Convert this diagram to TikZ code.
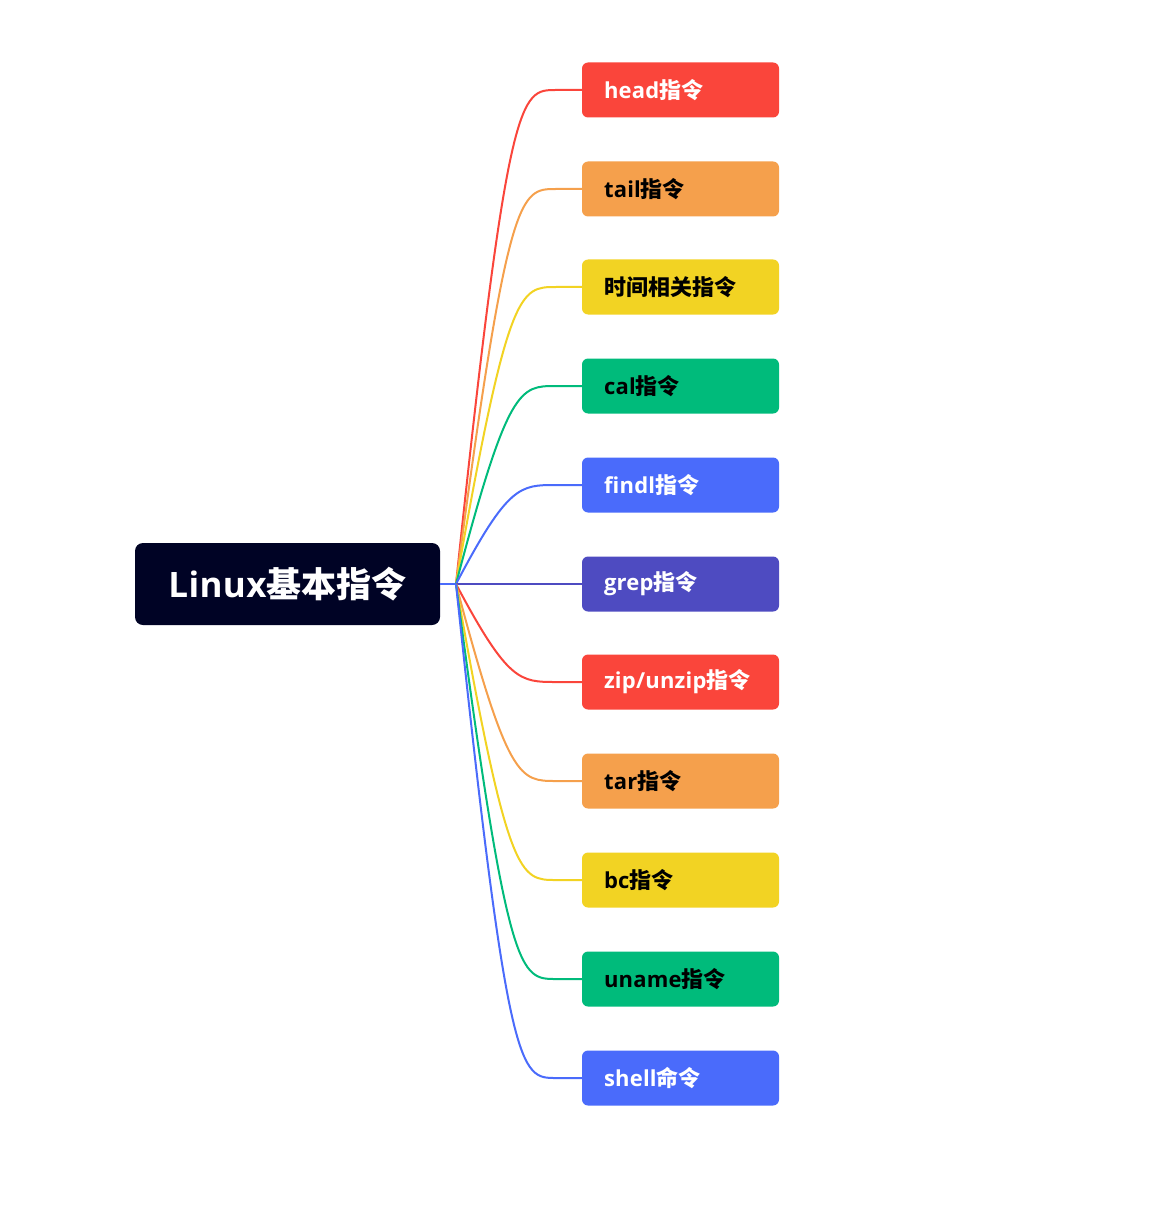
\documentclass[tikz,border=0pt]{standalone}
\usepackage{fontspec}
\setmainfont{Noto Sans CJK SC}
\newfontfamily\lat{Open Sans}[Ligatures=NoCommon,LetterSpace=1]
\definecolor{cred}{HTML}{FA453B}
\definecolor{corange}{HTML}{F5A04C}
\definecolor{cyellow}{HTML}{F2D323}
\definecolor{cgreen}{HTML}{00BB7B}
\definecolor{cblue}{HTML}{4A6BFB}
\definecolor{cpurple}{HTML}{4E4BC1}
\definecolor{croot}{HTML}{000325}
\begin{document}
\begin{tikzpicture}[x=1pt,y=-1pt,
  leaf/.style={rounded corners=6pt,minimum width=197pt,minimum height=55pt,text width=153pt,align=left,inner xsep=22pt,inner ysep=0pt,font=\fontsize{22}{24}\selectfont\bfseries},
  rootbox/.style={rounded corners=8pt,fill=croot,minimum width=305pt,minimum height=82pt,inner sep=0pt,text=white,font=\fontsize{35}{38}\selectfont\bfseries},
  link/.style={line width=2pt}]
\useasboundingbox (0,0) rectangle (1170,1230);
\node[rootbox] (root) at (287.5,584) {{\lat\bfseries Linux}基本指令};
\coordinate (hub) at (456,584);
\draw[link,cblue] (root.east) -- (hub);
\foreach \name/\y/\col/\tcol/\txt in {
  n1/90/cred/white/{{\lat\bfseries head}指令},
  n2/189/corange/black/{{\lat\bfseries tail}指令},
  n3/287/cyellow/black/{时间相关指令},
  n4/386/cgreen/black/{{\lat\bfseries cal}指令},
  n5/485/cblue/white/{{\lat\bfseries findl}指令},
  n6/584/cpurple/white/{{\lat\bfseries grep}指令},
  n7/682/cred/white/{{\lat\bfseries zip/unzip}指令},
  n8/781/corange/black/{{\lat\bfseries tar}指令},
  n9/880/cyellow/black/{{\lat\bfseries bc}指令},
  n10/979/cgreen/black/{{\lat\bfseries uname}指令},
  n11/1078/cblue/white/{{\lat\bfseries shell}命令}}{
  \node[leaf,fill=\col,text=\tcol] (\name) at (680.5,\y) {\txt};
  \draw[link,\col] (hub) .. controls (508,\y) and (520,\y) .. (556,\y) -- (\name.west);
}
\end{tikzpicture}
\end{document}
